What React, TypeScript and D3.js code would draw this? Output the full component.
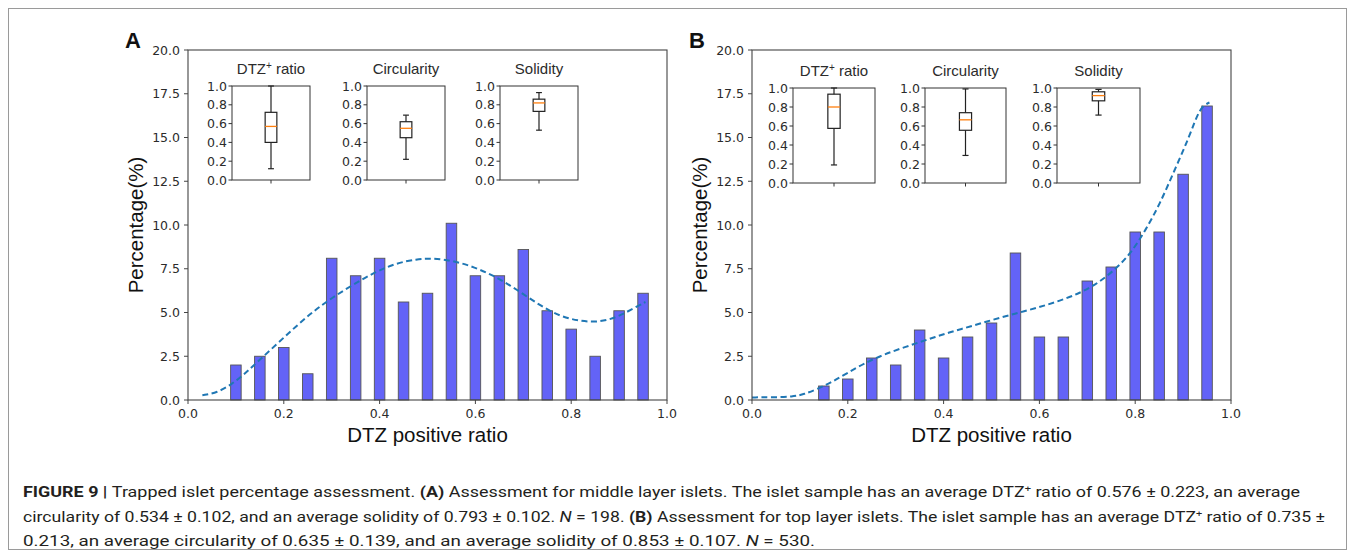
import React from 'react';
import * as d3 from 'd3';

// ---- data ----
const xTickValues = [0, 0.2, 0.4, 0.6, 0.8, 1.0];
const yTickValues = [0, 2.5, 5, 7.5, 10, 12.5, 15, 17.5, 20];
const insetTickValues = [0, 0.2, 0.4, 0.6, 0.8, 1.0];
const insetTitles = ['DTZ', 'Circularity', 'Solidity'];

// panel A: middle layer islets (N = 198)
const binsA = [0.1, 0.15, 0.2, 0.25, 0.3, 0.35, 0.4, 0.45, 0.5, 0.55, 0.6, 0.65, 0.7, 0.75, 0.8, 0.85, 0.9, 0.95];
const pctA = [2.0, 2.5, 3.0, 1.5, 8.1, 7.1, 8.1, 5.6, 6.1, 10.1, 7.1, 7.1, 8.6, 5.1, 4.05, 2.5, 5.1, 6.1];
const kdeAx = [0.03, 0.061, 0.091, 0.121, 0.15, 0.188, 0.225, 0.262, 0.3, 0.344, 0.389, 0.434, 0.478, 0.508, 0.553, 0.598, 0.642, 0.687, 0.732, 0.776, 0.821, 0.862, 0.896, 0.925, 0.955];
const kdeAy = [0.27, 0.42, 0.89, 1.56, 2.3, 3.26, 4.2, 5.07, 5.83, 6.58, 7.29, 7.82, 8.05, 8.1, 7.97, 7.59, 7.06, 6.3, 5.45, 4.78, 4.48, 4.46, 4.74, 5.16, 5.6];
// [low whisker, Q1, median, Q3, high whisker]
const dtzBoxA = [0.12, 0.4, 0.57, 0.72, 1.0];
const circBoxA = [0.22, 0.45, 0.55, 0.62, 0.69];
const solBoxA = [0.53, 0.73, 0.82, 0.86, 0.93];

// panel B: top layer islets (N = 530)
const binsB = [0.15, 0.2, 0.25, 0.3, 0.35, 0.4, 0.45, 0.5, 0.55, 0.6, 0.65, 0.7, 0.75, 0.8, 0.85, 0.9, 0.95];
const pctB = [0.8, 1.2, 2.4, 2.0, 4.0, 2.4, 3.6, 4.4, 8.4, 3.6, 3.6, 6.8, 7.6, 9.6, 9.6, 12.9, 16.8];
const kdeBx = [0, 0.04, 0.086, 0.108, 0.139, 0.169, 0.2, 0.237, 0.275, 0.321, 0.366, 0.412, 0.457, 0.503, 0.549, 0.594, 0.64, 0.685, 0.723, 0.761, 0.791, 0.822, 0.852, 0.882, 0.913, 0.935, 0.955];
const kdeBy = [0.15, 0.15, 0.19, 0.32, 0.65, 1.06, 1.56, 2.13, 2.6, 3.04, 3.45, 3.87, 4.21, 4.59, 4.93, 5.26, 5.64, 6.11, 6.68, 7.53, 8.39, 9.72, 11.23, 13.13, 15.03, 16.74, 17.0];
const dtzBoxB = [0.19, 0.575, 0.8, 0.935, 1.0];
const circBoxB = [0.29, 0.555, 0.665, 0.74, 0.99];
const solBoxB = [0.715, 0.865, 0.92, 0.96, 0.985];

const TICK_FONT = '"DejaVu Sans", sans-serif';
const LABEL_FONT = '"Liberation Sans", Arial, sans-serif';
const INK = '#2b2b2b';

const InsetBox = ({ left, top, w, h, title, stats }) => {
  const y = d3.scaleLinear().domain([0, 1]).range([top + h, top]);
  const x = d3.scaleLinear().domain([0.5, 1.5]).range([left, left + w]);
  const [lo, q1, med, q3, hi] = stats;
  const bw = x(1.075) - x(0.925);
  const cw = bw / 2;
  const cx = x(1);
  return (
    <g>
      <text x={left + w / 2} y={top - 12} textAnchor="middle" fontFamily={LABEL_FONT} fontSize={15} fill={INK}>
        {title === 'DTZ' ? (
          <>
            DTZ<tspan fontSize={10} dy={-5}>+</tspan>
            <tspan dy={5}> ratio</tspan>
          </>
        ) : (
          title
        )}
      </text>
      <rect x={left} y={top} width={w} height={h} fill="#fff" stroke="#333" strokeWidth={1} />
      {insetTickValues.map(t => (
        <g key={t}>
          <line x1={left - 3.5} x2={left} y1={y(t)} y2={y(t)} stroke="#333" />
          <text x={left - 5} y={y(t) + 4.5} textAnchor="end" fontFamily={TICK_FONT} fontSize={12.5} fill={INK}>
            {t.toFixed(1)}
          </text>
        </g>
      ))}
      <line x1={cx} x2={cx} y1={top + h} y2={top + h + 3.5} stroke="#333" />
      <line x1={cx} x2={cx} y1={y(lo)} y2={y(q1)} stroke="#222" strokeWidth={1.2} />
      <line x1={cx} x2={cx} y1={y(q3)} y2={y(hi)} stroke="#222" strokeWidth={1.2} />
      <line x1={cx - cw / 2} x2={cx + cw / 2} y1={y(lo)} y2={y(lo)} stroke="#222" strokeWidth={1.2} />
      <line x1={cx - cw / 2} x2={cx + cw / 2} y1={y(hi)} y2={y(hi)} stroke="#222" strokeWidth={1.2} />
      <rect x={cx - bw / 2} y={y(q3)} width={bw} height={y(q1) - y(q3)} fill="none" stroke="#222" strokeWidth={1.2} />
      <line x1={cx - bw / 2} x2={cx + bw / 2} y1={y(med)} y2={y(med)} stroke="#ff7f0e" strokeWidth={1.3} />
    </g>
  );
};

const Panel = ({ left, top, w, h, letter, bins, pcts, kdeX, kdeY, insets }) => {
  const x = d3.scaleLinear().domain([0, 1]).range([left, left + w]);
  const y = d3.scaleLinear().domain([0, 20]).range([top + h, top]);
  const barW = x(0.022) - x(0);
  const kde = d3
    .line()
    .x(d => x(d[0]))
    .y(d => y(d[1]))
    .curve(d3.curveBasis)(kdeX.map((v, i) => [v, kdeY[i]]));

  return (
    <g>
      <text x={left - 63} y={top - 2} fontFamily={LABEL_FONT} fontWeight="bold" fontSize={22} fill="#111">
        {letter}
      </text>
      {bins.map((b, i) => (
        <rect
          key={b}
          x={x(b) - barW / 2}
          y={y(pcts[i])}
          width={barW}
          height={y(0) - y(pcts[i])}
          fill="#6363f7"
          stroke="#555"
          strokeWidth={0.9}
        />
      ))}
      <path d={kde} fill="none" stroke="#1f77b4" strokeWidth={2} strokeDasharray="6,3.5" />
      <rect x={left} y={top} width={w} height={h} fill="none" stroke="#444" strokeWidth={1.1} />
      {yTickValues.map(t => (
        <g key={t}>
          <line x1={left - 4} x2={left} y1={y(t)} y2={y(t)} stroke="#444" />
          <text x={left - 8} y={y(t) + 4.5} textAnchor="end" fontFamily={TICK_FONT} fontSize={12.5} fill={INK}>
            {t.toFixed(1)}
          </text>
        </g>
      ))}
      {xTickValues.map(t => (
        <g key={t}>
          <line x1={x(t)} x2={x(t)} y1={top + h} y2={top + h + 4} stroke="#444" />
          <text x={x(t)} y={top + h + 18} textAnchor="middle" fontFamily={TICK_FONT} fontSize={12.5} fill={INK}>
            {t.toFixed(1)}
          </text>
        </g>
      ))}
      <text
        transform={`translate(${left - 45},${top + h / 2}) rotate(-90)`}
        textAnchor="middle"
        fontFamily={LABEL_FONT}
        fontSize={20.5}
        fill="#111"
      >
        Percentage(%)
      </text>
      <text x={left + w / 2} y={top + h + 42} textAnchor="middle" fontFamily={LABEL_FONT} fontSize={20.5} fill="#111">
        DTZ positive ratio
      </text>
      {insets.map((ins, i) => (
        <InsetBox key={i} {...ins} title={insetTitles[i]} />
      ))}
    </g>
  );
};

const CAP_FONT = '"Liberation Sans Narrow", "Roboto", "Liberation Sans", sans-serif';

export default function App() {
  const insetsA = [
    { left: 232, top: 86, w: 78, h: 94, stats: dtzBoxA },
    { left: 367, top: 86, w: 78, h: 94, stats: circBoxA },
    { left: 500, top: 86, w: 78, h: 94, stats: solBoxA },
  ];
  const insetsB = [
    { left: 793, top: 88, w: 82, h: 95, stats: dtzBoxB },
    { left: 925, top: 88, w: 81, h: 95, stats: circBoxB },
    { left: 1057, top: 88, w: 83, h: 95, stats: solBoxB },
  ];
  return (
    <svg width={1355} height={558} style={{ position: 'absolute', left: 0, top: 0, background: '#fff' }}>
      <rect x={8.5} y={8.5} width={1338} height={541} fill="#fff" stroke="#9a9a9a" strokeWidth={1} />
      <Panel left={188} top={50} w={479} h={350} letter="A" bins={binsA} pcts={pctA} kdeX={kdeAx} kdeY={kdeAy} insets={insetsA} />
      <Panel left={752} top={50} w={479} h={350} letter="B" bins={binsB} pcts={pctB} kdeX={kdeBx} kdeY={kdeBy} insets={insetsB} />
      <g fontFamily={CAP_FONT} fontSize={14.5} fill="#231f20">
        <text x={23} y={497} textLength={1277} lengthAdjust="spacingAndGlyphs">
          <tspan fontWeight="bold">FIGURE 9 | </tspan>Trapped islet percentage assessment. <tspan fontWeight="bold">(A)</tspan> Assessment for middle layer islets. The islet sample has an average DTZ<tspan fontSize={9} dy={-5}>+</tspan><tspan dy={5}> ratio of 0.576 ± 0.223, an average</tspan>
        </text>
        <text x={23} y={522} textLength={1302} lengthAdjust="spacingAndGlyphs">
          circularity of 0.534 ± 0.102, and an average solidity of 0.793 ± 0.102. <tspan fontStyle="italic">N</tspan> = 198. <tspan fontWeight="bold">(B)</tspan> Assessment for top layer islets. The islet sample has an average DTZ<tspan fontSize={9} dy={-5}>+</tspan><tspan dy={5}> ratio of 0.735 ±</tspan>
        </text>
        <text x={23} y={546} textLength={792} lengthAdjust="spacingAndGlyphs">
          0.213, an average circularity of 0.635 ± 0.139, and an average solidity of 0.853 ± 0.107. <tspan fontStyle="italic">N</tspan> = 530.
        </text>
      </g>
    </svg>
  );
}
